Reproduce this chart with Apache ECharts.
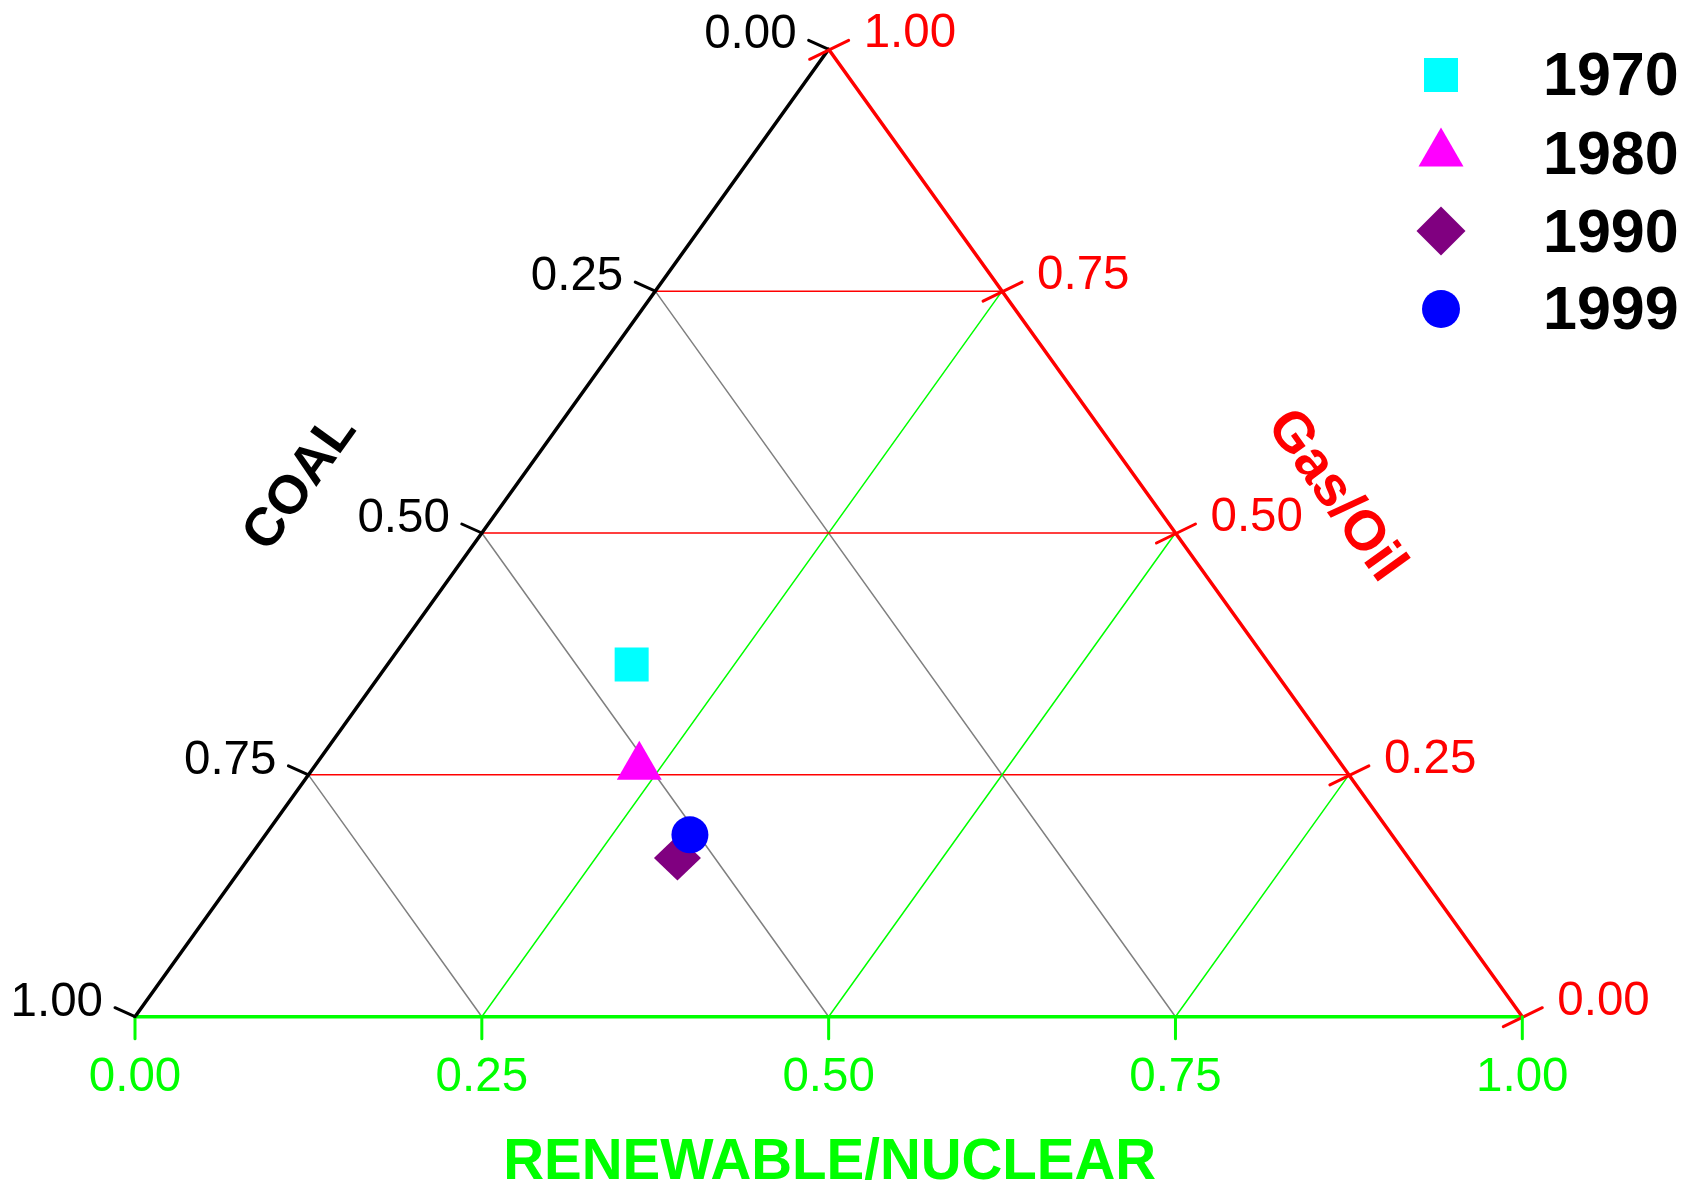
<!DOCTYPE html>
<html><head><meta charset="utf-8">
<script src="https://cdn.jsdelivr.net/npm/echarts@6/dist/echarts.min.js"></script>
<style>html,body{margin:0;padding:0;background:#fff}#c{width:1696px;height:1188px}</style>
</head><body><div id="c"></div>
<script>
// ---- data ----
const years = ['1970', '1980', '1990', '1999'];
const coal = [0.460, 0.504, 0.527, 0.506];
const gasOil = [0.364, 0.265, 0.164, 0.188];
const renewable = [0.176, 0.231, 0.309, 0.306];
const tickValues = [0, 0.25, 0.5, 0.75, 1];
const tickLabels = ['0.00', '0.25', '0.50', '0.75', '1.00'];
const gridValues = [0.25, 0.5, 0.75];
const coalTitle = 'COAL';
const gasTitle = 'Gas/Oil';
const renewableTitle = 'RENEWABLE/NUCLEAR';

// ---- styles ----
const FONT = "'Liberation Sans', Arial, sans-serif";
const BLACK = '#000000', RED = '#ff0000', GREEN = '#00ff00', GRAY = '#808080';
const symbols = ['rect', 'triangle', 'diamond', 'circle'];
const sizes = [34, [45, 39], [47, 45], 37];
const colors = ['#00ffff', '#ff00ff', '#800080', '#0000ff'];
const legendBoxes = [[34, 34], [45, 39], [49, 49], [38, 38]];
const legendCenterY = [75, 147, 231, 309];
const legendTextShift = [3, 10, 4, 3];
const legendIconX = 1441, legendTextX = 1543, legendLineH = 70, legendNudge = 4.5;
const TICK_FS = 47.5, EDGE_W = 3.5;

// ternary -> cartesian (x = renewable + gas/2, y = gas)
function tern(r, g) { return [r + g / 2, g]; }

function renderFrame(params, api) {
  const P = (r, g) => api.coord(tern(r, g));
  const ch = [];
  const line = (a, b, color, w) => ch.push({
    type: 'line', shape: { x1: a[0], y1: a[1], x2: b[0], y2: b[1] },
    style: { stroke: color, lineWidth: w, lineCap: 'round' }
  });
  const text = (x, y, s, color, size, align, weight, rot) => ch.push({
    type: 'text', x: x, y: y, rotation: rot || 0,
    style: { text: s, fill: color, font: (weight || 'normal') + ' ' + size + 'px ' + FONT,
      align: align, verticalAlign: 'middle' }
  });
  // grid lines
  gridValues.forEach(v => {
    line(P(0, v), P(1 - v, v), RED, 1.5);           // gas/oil constant
    line(P(1 - v, 0), P(0, 1 - v), GRAY, 1.5);      // coal constant
    line(P(v, 0), P(v, 1 - v), GREEN, 1.5);         // renewable constant
  });
  // edges
  line(P(0, 0), P(1, 0), GREEN, EDGE_W);
  line(P(0, 0), P(0, 1), BLACK, EDGE_W);
  line(P(0, 1), P(1, 0), RED, EDGE_W);
  // ticks + labels
  tickValues.forEach((v, i) => {
    // coal (left edge)
    let p = P(0, 1 - v);
    line(p, [p[0] - 20, p[1] - 9], BLACK, 3);
    text(p[0] - 32, p[1] - 14, tickLabels[i], BLACK, TICK_FS, 'right');
    // gas/oil (right edge)
    p = P(1 - v, v);
    line([p[0] - 19, p[1] + 10], [p[0] + 20, p[1] - 9], RED, 3);
    text(p[0] + 35, p[1] - 15, tickLabels[i], RED, TICK_FS, 'left');
    // renewable (bottom)
    p = P(v, 0);
    line(p, [p[0], p[1] + 22], GREEN, 3);
    text(p[0], p[1] + 61, tickLabels[i], GREEN, TICK_FS, 'center');
  });
  // axis titles
  const a0 = P(0, 0), a1 = P(0, 1);
  const ang = Math.atan2(a0[1] - a1[1], a1[0] - a0[0]);
  let m = P(0, 0.5);
  text(m[0] - 181, m[1] - 50, coalTitle, BLACK, 54, 'center', 'bold', ang);
  m = P(0.5, 0.5);
  text(m[0] + 160, m[1] - 37, gasTitle, RED, 56, 'center', 'bold', -ang);
  m = P(0.5, 0);
  text(m[0] + 1, m[1] + 147, renewableTitle, GREEN, 56.5, 'center', 'bold');
  return { type: 'group', children: ch };
}

const series = [{
  type: 'custom', name: 'frame', renderItem: renderFrame, data: [[0, 0]],
  clip: false, silent: true, z: 1
}];
years.forEach((y, i) => {
  series.push({
    type: 'scatter', name: y, symbol: symbols[i], symbolSize: sizes[i],
    itemStyle: { color: colors[i], opacity: 1 },
    data: [tern(renewable[i], gasOil[i])], z: 10 + i, silent: true
  });
});

const legends = years.map((y, i) => {
  const w = legendBoxes[i][0], h = legendBoxes[i][1];
  const d = legendTextShift[i];
  const left = legendIconX - w / 2;
  return {
    data: [{ name: y, icon: symbols[i] }], orient: 'vertical',
    left: left, top: legendCenterY[i] - legendLineH / 2 - d + legendNudge, padding: 0,
    itemWidth: w, itemHeight: h, selectedMode: false,
    formatter: '{t|{name}}',
    textStyle: {
      color: '#000', padding: [0, 0, 0, legendTextX - (left + w + 5)],
      rich: { t: { fontSize: 61, fontWeight: 'bold', fontFamily: FONT, color: '#000',
        lineHeight: legendLineH, padding: [2 * d, 0, 0, 0] } }
    }
  };
});

const chart = echarts.init(document.getElementById('c'));
chart.setOption({
  animation: false,
  backgroundColor: '#ffffff',
  grid: { left: 135, right: 173.7, top: 49.3, bottom: 171.3 },
  xAxis: { type: 'value', min: 0, max: 1, show: false },
  yAxis: { type: 'value', min: 0, max: 1, show: false },
  legend: legends,
  series: series
});
</script></body></html>
